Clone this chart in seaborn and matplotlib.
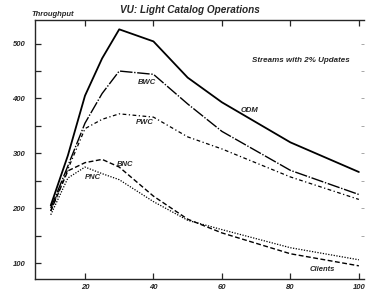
import pandas as pd
import matplotlib
matplotlib.use("Agg")
import matplotlib.pyplot as plt
import seaborn as sns
from matplotlib.ticker import MultipleLocator

clients = [10, 15, 20, 25, 30, 40, 50, 60, 80, 100]
odm = [205, 296, 405, 473, 526, 504, 438, 393, 320, 266]
bwc = [200, 277, 355, 409, 450, 444, 390, 340, 269, 225]
pwc = [195, 271, 345, 362, 372, 366, 330, 308, 257, 216]
bnc = [195, 268, 283, 289, 275, 222, 180, 155, 117, 95]
pnc = [188, 255, 275, 263, 252, 212, 178, 161, 128, 106]

series = ["ODM", "BWC", "PWC", "BNC", "PNC"]
values = {"ODM": odm, "BWC": bwc, "PWC": pwc, "BNC": bnc, "PNC": pnc}
styles = {
    "ODM": ("-", 1.3),
    "BWC": ((0, (9, 1.2, 1, 1.2)), 1.0),
    "PWC": ((0, (3, 2, 1, 2)), 0.9),
    "BNC": ((0, (3.5, 1.8)), 1.0),
    "PNC": ((0, (1, 1.2)), 0.9),
}
label_pos = {"ODM": (68, 378), "BWC": (38, 430), "PWC": (37.5, 356),
             "BNC": (31.8, 279), "PNC": (22.4, 256)}

df = pd.DataFrame([(s, c, v) for s in series for c, v in zip(clients, values[s])],
                  columns=["series", "clients", "throughput"])

sns.set_style("ticks")
plt.rcParams["font.family"] = ["Liberation Sans", "DejaVu Sans"]

fig = plt.figure(figsize=(3.66, 2.9), dpi=100)
ax = fig.add_axes([35 / 366, 1 - 279 / 290, 329 / 366, 259 / 290])

for s in series:
    ls, lw = styles[s]
    sns.lineplot(data=df[df["series"] == s], x="clients", y="throughput",
                 ax=ax, color="black", linewidth=lw, linestyle=ls, legend=False)
    lx, ly = label_pos[s]
    ax.text(lx, ly, s, fontsize=5.5, fontstyle="italic", fontweight="bold",
            ha="center", va="center")

ax.set_xlim(5.4, 101.5)
ax.set_ylim(71, 543)
ax.set_xticks([20, 40, 60, 80, 100])
ax.set_yticks([100, 200, 300, 400, 500])
ax.yaxis.set_minor_locator(MultipleLocator(50))
ax.tick_params(axis="both", which="both", direction="in", top=True, right=False,
               labelsize=5.5, width=0.9, length=4)
for lab in ax.get_xticklabels() + ax.get_yticklabels():
    lab.set_fontstyle("italic")
    lab.set_fontweight("bold")
ax.tick_params(axis="y", pad=7)
ax.set_xlabel("")
ax.set_ylabel("")
for side in ["left", "bottom", "top"]:
    ax.spines[side].set_linewidth(1.0)
ax.spines["right"].set_visible(False)

# faint right-hand ticks
ax_r = ax.secondary_yaxis("right")
ax_r.set_yticks([150, 200, 250, 300, 350, 400, 450, 500])
ax_r.tick_params(direction="in", length=2, width=0.6, color="#999999", labelright=False)
ax_r.spines["right"].set_visible(False)

ax.text(89.2, 88, "Clients", fontsize=5.5, fontstyle="italic", fontweight="bold",
        ha="center", va="center")
ax.text(83, 470, "Streams with 2% Updates", fontsize=5.8, fontstyle="italic",
        fontweight="bold", ha="center", va="center")
fig.text(53 / 366, 1 - 14 / 290, "Throughput", fontsize=5.5, fontstyle="italic",
         fontweight="bold", ha="center", va="center")
fig.text(190 / 366, 1 - 10 / 290, "VU: Light Catalog Operations", fontsize=7.2,
         fontstyle="italic", fontweight="bold", ha="center", va="center")

fig.savefig("out.png", dpi=100, facecolor="white")
